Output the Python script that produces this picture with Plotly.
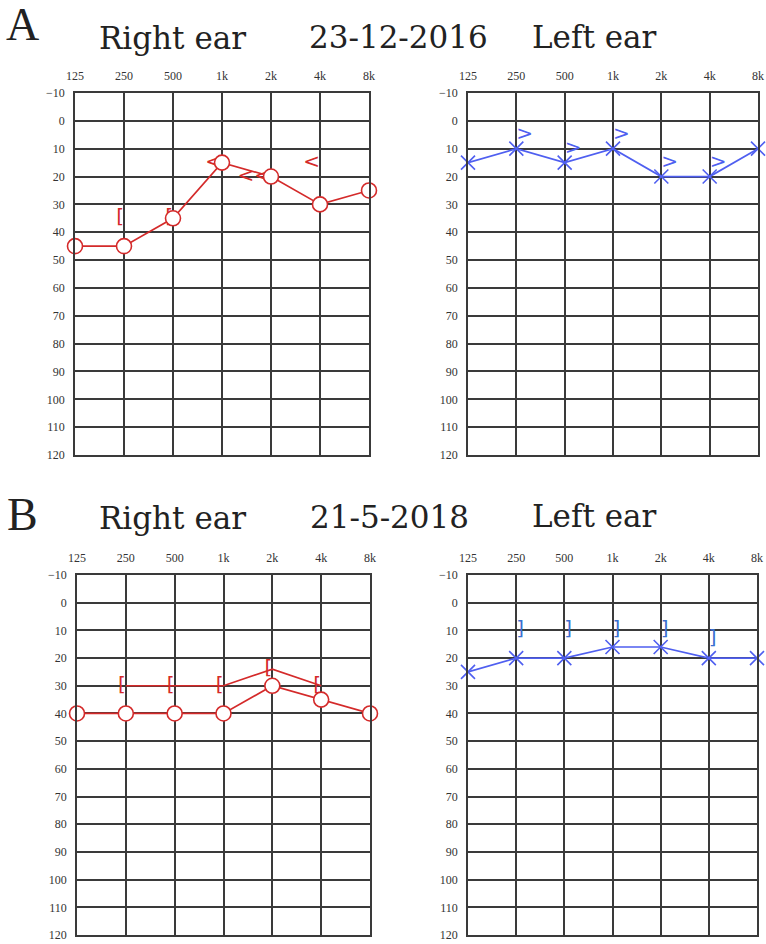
import plotly.graph_objects as go

W, H = 766, 944

freq_labels = ["125", "250", "500", "1k", "2k", "4k", "8k"]
freq_pos = [0, 1, 2, 3, 4, 5, 6]
db_ticks = [-10, 0, 10, 20, 30, 40, 50, 60, 70, 80, 90, 100, 110, 120]

# Panel A (23-12-2016)
a_right_air = [45, 45, 35, 15, 20, 30, 25]
a_right_bone_freq = [1, 2, 3, 4, 5]
a_right_bone = [35, 35, 15, 20, 15]
a_right_bone_sym = ["[", "[", "<", "<<", "<"]
a_left_air = [15, 10, 15, 10, 20, 20, 10]
a_left_bone_freq = [1, 2, 3, 4, 5]
a_left_bone = [5, 10, 5, 15, 15]
a_left_bone_sym = [">", ">", ">", ">", ">"]

# Panel B (21-5-2018)
b_right_air = [40, 40, 40, 40, 30, 35, 40]
b_right_bone_freq = [1, 2, 3, 4, 5]
b_right_bone = [30, 30, 30, 24, 30]
b_right_bone_sym = ["[", "[", "[", "[", "["]
b_left_air = [25, 20, 20, 16, 16, 20, 20]
b_left_bone_freq = [1, 2, 3, 4, 5]
b_left_bone = [10, 10, 10, 10, 13]
b_left_bone_sym = ["]", "]", "]", "]", "]"]

RED = "#d42a2a"
BLUE = "#4f5ff0"
GRID = "#3a3a3a"

def px_x(a, b):
    return [a / W, b / W]

def px_y(top, bottom):
    return [1 - bottom / H, 1 - top / H]

panels = [
    ("", px_x(75, 369), px_y(93, 455)),
    ("2", px_x(468, 758), px_y(93, 455)),
    ("3", px_x(77, 370), px_y(575, 935)),
    ("4", px_x(468, 757), px_y(575, 935)),
]

fig = go.Figure()

def add_air(idx, vals, color, symbol, size):
    sfx = panels[idx][0]
    fig.add_trace(go.Scatter(
        x=freq_pos, y=vals, mode="lines+markers",
        line=dict(color=color, width=1.7),
        marker=dict(symbol=symbol, size=size, color="white" if symbol == "circle" else color,
                    line=dict(color=color, width=1.6)),
        xaxis="x" + sfx, yaxis="y" + sfx, cliponaxis=False, showlegend=False))

def add_bone(idx, fx, vals, syms, color, pos, line=False):
    sfx = panels[idx][0]
    fig.add_trace(go.Scatter(
        x=fx, y=vals, mode="text+lines" if line else "text",
        text=syms, textposition=pos,
        line=dict(color=color, width=1.7),
        textfont=dict(color=color, size=20, family="DejaVu Sans"),
        xaxis="x" + sfx, yaxis="y" + sfx, cliponaxis=False, showlegend=False))

add_bone(0, a_right_bone_freq, a_right_bone, a_right_bone_sym, RED, "middle left")
add_air(0, a_right_air, RED, "circle", 15)
add_bone(1, a_left_bone_freq, a_left_bone, a_left_bone_sym, BLUE, "middle right")
add_air(1, a_left_air, BLUE, "x-thin-open", 14)
add_bone(2, b_right_bone_freq, b_right_bone, b_right_bone_sym, RED, "middle left", line=True)
add_air(2, b_right_air, RED, "circle", 15)
add_bone(3, b_left_bone_freq, b_left_bone, b_left_bone_sym, "#3a6fd0", "middle right")
add_air(3, b_left_air, BLUE, "x-thin-open", 14)

layout = dict(
    width=W, height=H, margin=dict(l=0, r=0, t=0, b=0),
    paper_bgcolor="white", plot_bgcolor="white",
)
tickfont = dict(family="Liberation Serif", size=12, color="#333")
for sfx, xd, yd in panels:
    layout["xaxis" + sfx] = dict(
        domain=xd, range=[0, 6], anchor="y" + sfx, side="top",
        tickmode="array", tickvals=freq_pos, ticktext=freq_labels,
        showgrid=True, gridcolor=GRID, gridwidth=1.6,
        showline=True, mirror=True, linecolor=GRID, linewidth=1.6,
        zeroline=False, ticks="", tickfont=tickfont, ticklabelstandoff=6,
        automargin=False, fixedrange=True)
    layout["yaxis" + sfx] = dict(
        domain=yd, range=[120, -10], anchor="x" + sfx,
        tickmode="array", tickvals=db_ticks,
        showgrid=True, gridcolor=GRID, gridwidth=1.6,
        showline=True, mirror=True, linecolor=GRID, linewidth=1.6,
        zeroline=False, ticks="", tickfont=tickfont, ticklabelstandoff=6,
        automargin=False, fixedrange=True)
fig.update_layout(**layout)

title_font = dict(family="DejaVu Serif", size=31, color="#222")
letter_font = dict(family="Liberation Serif", size=46, color="#222")
titles = [
    ("A", 22, 24, letter_font),
    ("Right ear", 172, 38, title_font),
    ("23-12-2016", 398, 37, title_font),
    ("Left ear", 594, 37, title_font),
    ("B", 22, 514, letter_font),
    ("Right ear", 172, 518, title_font),
    ("21-5-2018", 389, 517, title_font),
    ("Left ear", 594, 516, title_font),
]
for text, xp, yp, f in titles:
    fig.add_annotation(text=text, x=xp / W, y=1 - yp / H, xref="paper", yref="paper",
                       xanchor="center", yanchor="middle", showarrow=False, font=f)

fig.write_html("out.html", config={"displayModeBar": False},
               post_script="document.body.style.margin='0px';")
